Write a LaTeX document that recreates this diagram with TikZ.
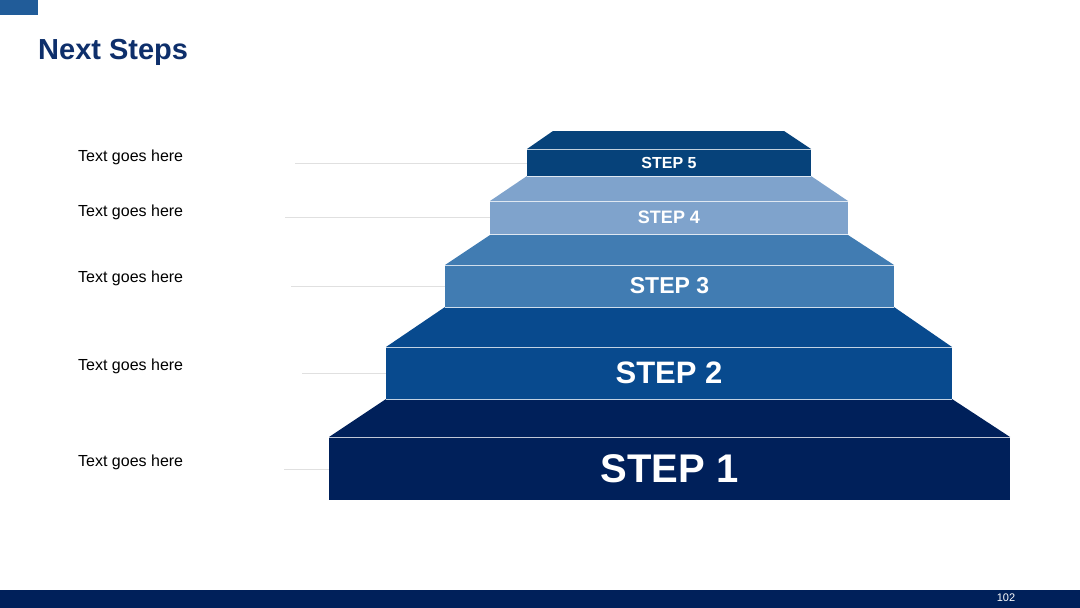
\documentclass[tikz,border=0pt]{standalone}
\usepackage{fontspec}
\setmainfont{Liberation Sans}
\begin{document}
\begin{tikzpicture}[x=1pt,y=-1pt,
 lbl/.style={anchor=west,font=\fontsize{16}{18}\selectfont,text=black,inner sep=0},
 lead/.style={draw=black!12,line width=0.8pt},
 st/.style={text=white,font=\bfseries}]
\useasboundingbox (0,0) rectangle (1080,608);
\definecolor{cA}{HTML}{00205A}\definecolor{cB}{HTML}{084A8E}
\definecolor{cC}{HTML}{417CB2}\definecolor{cD}{HTML}{7FA3CC}
\definecolor{cE}{HTML}{06427A}\definecolor{navy}{HTML}{0E2F6B}
\fill[cB!90!white] (0,0) rectangle (38,15);
\node[anchor=west,text=navy,font=\bfseries\fontsize{29}{32}\selectfont,inner sep=0] (title) at (38,52) {Next Steps};
\fill[cA] (0,590) rectangle (1080,608);
\node[text=white,font=\fontsize{11}{12}\selectfont] (pg) at (1006,598) {102};
% steps: trapezoid + face
\newcommand{\stp}[9]{%
 \fill[#9] (#2,#1) -- (#3,#1) -- (#5,#4) -- (#6,#4) -- cycle;
 \fill[#9] (#6,#4) rectangle (#5,#7);
 \draw[white!75!#9,line width=0.8pt] (#6,#4) -- (#5,#4);
 \node[st,font=\bfseries\fontsize{#8}{#8}\selectfont] at ({(#5+#6)/2},{(#4+#7)/2}) {STEP \stepnum};}
\def\stepnum{1}\stp{399}{386}{952}{437}{1010}{329}{500}{40}{cA}
\coordinate (f1) at (329,469);
\def\stepnum{2}\stp{307}{445}{894}{347}{952}{386}{399}{31}{cB}
\coordinate (f2) at (386,373);
\def\stepnum{3}\stp{235}{490}{848}{265}{894}{445}{307}{23}{cC}
\coordinate (f3) at (445,286);
\def\stepnum{4}\stp{176}{527}{811}{201}{848}{490}{234}{18}{cD}
\coordinate (f4) at (490,217);
\def\stepnum{5}\stp{131}{553}{784}{149}{811}{527}{176}{16}{cE}
\coordinate (f5) at (527,163);
\draw[white!75!cD,line width=0.8pt] (490,234.5) -- (848,234.5);
\draw[white!75!cD,line width=0.8pt] (527,176) -- (811,176);
\draw[white!75!cC,line width=0.8pt] (445,307) -- (894,307);
\draw[white!75!cB,line width=0.8pt] (386,399) -- (952,399);
\coordinate (s5) at (295,163);\coordinate (s4) at (285,217);\coordinate (s3) at (291,286);
\coordinate (s2) at (302,373);\coordinate (s1) at (284,469);
\foreach \i in {1,...,5} \draw[lead] (s\i) -- (f\i);
\node[lbl] (t5) at (78,157) {Text goes here};
\node[lbl] (t4) at (78,212) {Text goes here};
\node[lbl] (t3) at (78,278) {Text goes here};
\node[lbl] (t2) at (78,366) {Text goes here};
\node[lbl] (t1) at (78,462) {Text goes here};
\end{tikzpicture}
\end{document}
